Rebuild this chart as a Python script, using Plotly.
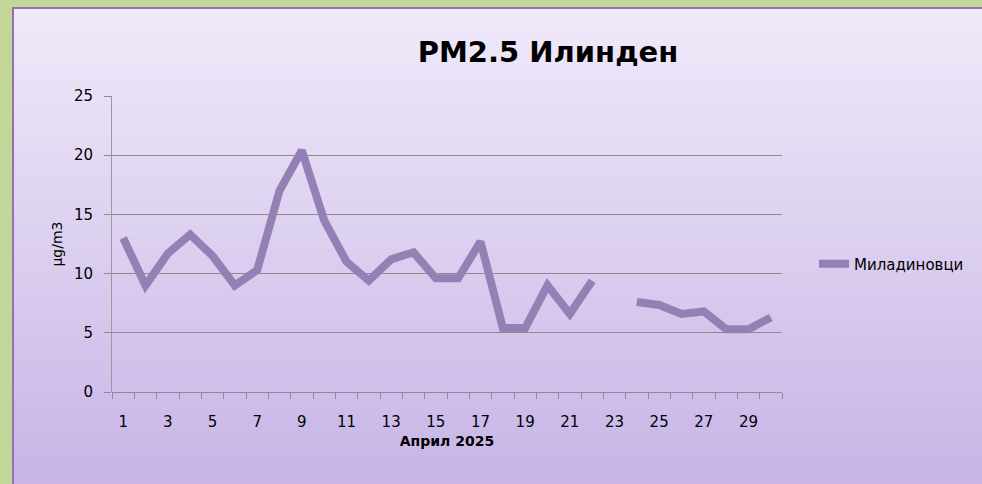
import plotly.graph_objects as go

days = list(range(1, 31))
values = [13.0, 9.0, 11.7, 13.3, 11.5, 9.0, 10.3, 17.0, 20.4, 14.5,
          11.0, 9.4, 11.2, 11.8, 9.6, 9.6, 12.7, 5.4, 5.4, 9.0,
          6.6, 9.4, None, 7.6, 7.35, 6.6, 6.8, 5.3, 5.3, 6.3]
tick_days = list(range(1, 30, 2))
tick_labels = [str(d) for d in tick_days]
series_name = "Миладиновци"
title_text = "PM2.5 Илинден"
x_title = "Април 2025"
y_title = "µg/m3"

FONT = "DejaVu Sans"
LINE_COLOR = "#9580b6"

W, H = 982, 484
ML, MR, MT, MB = 112, 200, 96, 92
PW, PH = W - ML - MR, H - MT - MB


def px_x(p):
    return (p - ML) / PW


def px_y(p):
    return (H - MB - p) / PH


fig = go.Figure()
fig.add_trace(go.Scatter(
    x=days, y=values, mode="lines", name=series_name,
    line=dict(color=LINE_COLOR, width=8),
    connectgaps=False,
))

# background panel with vertical gradient
shapes = []
n = 80
top = (240, 233, 249)
bot = (199, 180, 230)
ptop, pbot = 8, 490
for i in range(n):
    t = i / (n - 1)
    c = tuple(round(top[k] + (bot[k] - top[k]) * t) for k in range(3))
    ya = ptop + (pbot - ptop) * i / n
    yb = ptop + (pbot - ptop) * (i + 1) / n + 1
    shapes.append(dict(type="rect", xref="paper", yref="paper",
                       x0=px_x(13), x1=px_x(995),
                       y0=px_y(yb), y1=px_y(ya), fillcolor="rgb(%d,%d,%d)" % c,
                       line=dict(width=0), layer="below"))
shapes.append(dict(type="rect", xref="paper", yref="paper", x0=px_x(13), x1=px_x(995),
                   y0=px_y(495), y1=px_y(8), line=dict(color="#9272b4", width=2),
                   fillcolor="rgba(0,0,0,0)", layer="below"))

fig.update_layout(
    width=W, height=H,
    margin=dict(l=ML, r=MR, t=MT, b=MB),
    paper_bgcolor="#c2d69a",
    plot_bgcolor="rgba(0,0,0,0)",
    shapes=shapes,
    font=dict(family=FONT, size=14, color="#000000"),
    title=dict(text="<b>" + title_text + "</b>", x=548 / W, xanchor="center",
               y=1 - 52 / H, yanchor="middle",
               font=dict(family=FONT, size=29, color="#000000")),
    showlegend=True,
    legend=dict(x=px_x(814), xanchor="left", y=px_y(264), yanchor="middle",
                bgcolor="rgba(0,0,0,0)", font=dict(family=FONT, size=15),
                itemwidth=30),
    xaxis=dict(
        range=[0.5, 30.5], tickmode="array", tickvals=tick_days, ticktext=tick_labels,
        ticks="outside", ticklen=16, tickcolor="rgba(0,0,0,0)",
        showgrid=False, zeroline=False, showline=False,
        tickfont=dict(family=FONT, size=15),
        minor=dict(tickmode="array", tickvals=[d + 0.5 for d in range(0, 31)],
                   ticks="outside", ticklen=6, tickcolor="#8c8c8c", showgrid=False),
        title=dict(text="<b>" + x_title + "</b>", font=dict(family=FONT, size=14),
                   standoff=6),
        fixedrange=True,
    ),
    yaxis=dict(
        range=[0, 25], tickmode="array", tickvals=[0, 5, 10, 15, 20, 25],
        ticks="outside", ticklen=7, tickcolor="#8c8c8c",
        ticklabelstandoff=8,
        showgrid=True, gridcolor="#8c8c8c", gridwidth=1,
        zeroline=True, zerolinecolor="#8c8c8c", zerolinewidth=1,
        showline=True, linecolor="#9a9a9a", linewidth=1,
        tickfont=dict(family=FONT, size=15),
        title=dict(text=y_title, font=dict(family=FONT, size=14), standoff=8),
        fixedrange=True,
    ),
)

fig.write_html("out.html", config={"displayModeBar": False},
               post_script="document.body.style.margin='0';document.body.style.background='#c2d69a';")
